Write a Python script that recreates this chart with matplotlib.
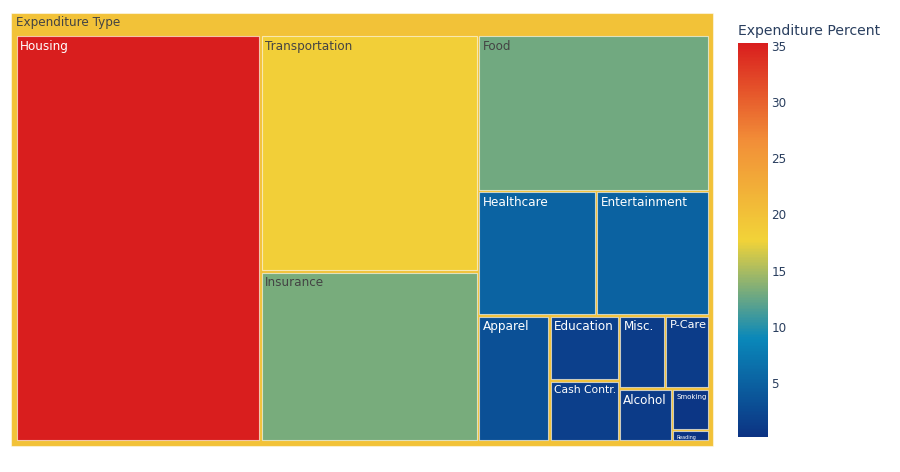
import numpy as np
import matplotlib
matplotlib.use("Agg")
import matplotlib.pyplot as plt
from matplotlib.colors import LinearSegmentedColormap, Normalize
from matplotlib.patches import Rectangle
from matplotlib.cm import ScalarMappable

# expenditure shares (percent)
labels = ["Housing", "Transportation", "Insurance", "Food", "Healthcare",
          "Entertainment", "Apparel", "Education", "Cash Contr.", "Misc.",
          "P-Care", "Alcohol", "Smoking", "Reading"]
values = [35.3, 18.2, 13.1, 12.8, 5.2, 5.0, 3.2, 1.6, 1.5, 1.2, 1.15, 1.0, 0.55, 0.15]
parent_label = "Expenditure Type"
cbar_ticks = [5, 10, 15, 20, 25, 30, 35]

plt.rcParams['font.family'] = ['DejaVu Sans']

# plotly "Portland" colorscale
portland = LinearSegmentedColormap.from_list("portland", [
    (0.0, (12/255, 51/255, 131/255)),
    (0.25, (10/255, 136/255, 186/255)),
    (0.5, (242/255, 211/255, 56/255)),
    (0.75, (242/255, 143/255, 56/255)),
    (1.0, (217/255, 30/255, 30/255))])
norm = Normalize(vmin=min(values), vmax=max(values))

FS = 8.64  # 12px


def squarify(vals, x0, y0, x1, y1, ratio=1.0):
    # same row logic as d3.treemapSquarify (values sorted descending)
    rects = [None] * len(vals)
    total = float(sum(vals))
    i0, n = 0, len(vals)
    while i0 < n:
        dx, dy = x1 - x0, y1 - y0
        s = vals[i0]
        lo = hi = s
        alpha = max(dy / dx, dx / dy) / (total * ratio)
        beta = s * s * alpha
        best = max(hi / beta, beta / lo)
        i1 = i0 + 1
        while i1 < n:
            v = vals[i1]
            s += v
            lo, hi = min(lo, v), max(hi, v)
            beta = s * s * alpha
            r = max(hi / beta, beta / lo)
            if r > best:
                s -= v
                break
            best = r
            i1 += 1
        if dx < dy:
            yk = y0 + dy * s / total
            xk = x0
            for k in range(i0, i1):
                w = dx * vals[k] / s
                rects[k] = (xk, y0, xk + w, yk)
                xk += w
            y0 = yk
        else:
            xk = x0 + dx * s / total
            yk = y0
            for k in range(i0, i1):
                h = dy * vals[k] / s
                rects[k] = (x0, yk, xk, yk + h)
                yk += h
            x0 = xk
        total -= s
        i0 = i1
    return rects


def text_color(c):
    lum = 0.299 * c[0] + 0.587 * c[1] + 0.114 * c[2]
    return '#444444' if lum > 0.5 else 'white'


fig = plt.figure(figsize=(9, 4.72), dpi=100)
ax = fig.add_axes([0, 0, 1, 1])
ax.set_xlim(0, 900)
ax.set_ylim(472, 0)
ax.axis('off')

# parent tile, coloured by value-weighted mean
vals = np.array(values)
parent_val = (vals * vals).sum() / vals.sum()
pc = portland(norm(parent_val))
ax.add_patch(Rectangle((10.5, 12.5), 702.5, 433.5, facecolor=pc,
                       edgecolor=(1, 1, 1, 0.5), lw=0.8))
ax.text(16, 16, parent_label, ha='left', va='top', fontsize=FS,
        color=text_color(pc))

fig.canvas.draw()
renderer = fig.canvas.get_renderer()

rects = squarify(values, 15.5, 35.0, 709.5, 441.5)
gap = 1.3
for lab, v, (x0, y0, x1, y1) in zip(labels, values, rects):
    c = portland(norm(v))
    ax.add_patch(Rectangle((x0 + gap, y0 + gap), x1 - x0 - 2 * gap, y1 - y0 - 2 * gap,
                           facecolor=c, edgecolor=(1, 1, 1, 0.6), lw=0.8))
    t = ax.text(x0 + 4.5, y0 + 5, lab, ha='left', va='top', fontsize=FS,
                color=text_color(c))
    # shrink label to fit the tile like plotly does
    bb = t.get_window_extent(renderer)
    avail_w = (x1 - x0) - 7
    avail_h = (y1 - y0) - 6
    scale = min(1.0, avail_w / bb.width, avail_h / bb.height)
    if scale < 1.0:
        t.set_fontsize(FS * scale)

# colorbar
cax = fig.add_axes([738 / 900, (472 - 437) / 472, 30 / 900, 394 / 472])
cb = fig.colorbar(ScalarMappable(norm=norm, cmap=portland), cax=cax, ticks=cbar_ticks)
cb.outline.set_visible(False)
cax.tick_params(length=0, pad=2.5, labelsize=FS, labelcolor='#2a3f5f')
fig.text(738 / 900, 1 - 31 / 472, "Expenditure Percent", ha='left', va='center',
         fontsize=10.08, color='#2a3f5f')

fig.savefig("out.png", dpi=100)
